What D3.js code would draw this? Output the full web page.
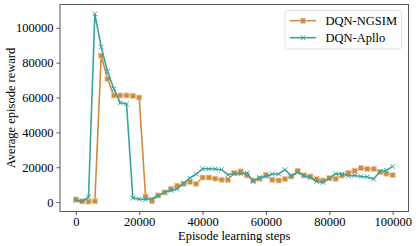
<!DOCTYPE html>
<html>
<head>
<meta charset="utf-8">
<script src="https://cdn.jsdelivr.net/npm/d3@7"></script>
<style>
    body { margin: 0; background: #fff; }
    svg { display: block; }
    text { font-family: "Liberation Serif", "DejaVu Serif", serif; }
</style>
</head>
<body>
<svg id="chart" width="416" height="246"></svg>
<script>
// training steps, one point every 2000 steps
const steps = d3.range(0, 100001, 2000);

const ngsim = [
    1500, 500, 300, 500, 84000, 70700, 61200, 61200, 61200, 61000,
    60000, 3200, 500, 3800, 5500, 7600, 9400, 10500, 11500, 10500,
    14100, 14100, 13500, 12800, 12800, 16700, 17600, 15300, 12400, 13400,
    15700, 12800, 12400, 13200, 14700, 18000, 15300, 14700, 13200, 12400,
    13800, 13400, 15300, 16700, 18000, 19500, 19000, 19000, 17200, 16300,
    15500
];

const apllo = [
    1000, 300, 2900, 108000, 89000, 75000, 65000, 57000, 56300, 2300,
    1700, 1500, 1900, 3600, 5700, 6700, 7500, 10900, 13800, 16100,
    19100, 19100, 19000, 18600, 15700, 16300, 16200, 16700, 11800, 14100,
    14700, 16100, 16100, 18600, 15100, 17000, 15300, 14100, 11800, 11300,
    13500, 16300, 16100, 15100, 15300, 14700, 14400, 13200, 17600, 18200,
    20500
];

const seriesNames = ['DQN-NGSIM', 'DQN-Apllo'];
const xTicks = [0, 20000, 40000, 60000, 80000, 100000];
const yTicks = [0, 20000, 40000, 60000, 80000, 100000];

const orange = '#cf8b3d';
const teal = '#3ba39a';
const serif = '"Liberation Serif", "DejaVu Serif", serif';

let svg = d3.select('#chart');
// plot area edges
let pl = 60, pr = 408.5, pt = 4.5, pb = 211.5;

let x = d3.scaleLinear().domain([-5000, 105000]).range([pl, pr]);
let y = d3.scaleLinear().domain([-5400, 113400]).range([pb, pt]);

// axes
let xAxis = svg.append('g')
    .attr('transform', 'translate(0,' + pb + ')')
    .call(d3.axisBottom(x).tickValues(xTicks).tickFormat(d3.format('d'))
        .tickSizeInner(3.5).tickSizeOuter(0).tickPadding(2));
let yAxis = svg.append('g')
    .attr('transform', 'translate(' + pl + ',0)')
    .call(d3.axisLeft(y).tickValues(yTicks).tickFormat(d3.format('d'))
        .tickSizeInner(3.5).tickSizeOuter(0).tickPadding(3));

[xAxis, yAxis].forEach(function(g) {
    g.attr('font-family', serif).attr('font-size', 12.5);
    g.select('.domain').remove();
    g.selectAll('line').attr('stroke', '#444').attr('stroke-width', 0.9);
    g.selectAll('text').attr('fill', '#000');
});

// series
function drawSeries(values, color, marker) {
    let pts = steps.map(function(s, i) { return [s, values[i]]; });
    let line = d3.line().x(function(d) { return x(d[0]); }).y(function(d) { return y(d[1]); });
    svg.append('path')
        .datum(pts)
        .attr('fill', 'none')
        .attr('stroke', color)
        .attr('stroke-width', 1.6)
        .attr('stroke-linejoin', 'round')
        .attr('d', line);
    let g = svg.append('g');
    pts.forEach(function(d) {
        drawMarker(g, x(d[0]), y(d[1]), color, marker);
    });
}

function drawMarker(g, cx, cy, color, marker) {
    if (marker === 'square') {
        g.append('rect')
            .attr('x', cx - 2.5).attr('y', cy - 2.5)
            .attr('width', 5).attr('height', 5)
            .attr('fill', color)
            .attr('stroke', '#e9c9a2')
            .attr('stroke-width', 0.8);
    } else {
        let r = 2.3;
        g.append('path')
            .attr('d', 'M' + (cx - r) + ',' + (cy - r) + 'L' + (cx + r) + ',' + (cy + r) +
                'M' + (cx - r) + ',' + (cy + r) + 'L' + (cx + r) + ',' + (cy - r))
            .attr('stroke', color)
            .attr('stroke-width', 1);
    }
}

drawSeries(ngsim, orange, 'square');
drawSeries(apllo, teal, 'x');

// frame
svg.append('rect')
    .attr('x', pl).attr('y', pt)
    .attr('width', pr - pl).attr('height', pb - pt)
    .attr('fill', 'none')
    .attr('stroke', '#444')
    .attr('stroke-width', 0.9);

// axis titles
svg.append('text')
    .attr('x', (pl + pr) / 2).attr('y', 239.5)
    .attr('text-anchor', 'middle')
    .attr('font-size', '12.5px')
    .text('Episode learning steps');
svg.append('text')
    .attr('transform', 'translate(15,' + ((pt + pb) / 2) + ') rotate(-90)')
    .attr('text-anchor', 'middle')
    .attr('font-size', '12.5px')
    .text('Average episode reward');

// legend
let legend = svg.append('g');
legend.append('rect')
    .attr('x', 285).attr('y', 10.5)
    .attr('width', 116.5).attr('height', 38.5)
    .attr('rx', 2.5)
    .attr('fill', '#fff')
    .attr('fill-opacity', 0.8)
    .attr('stroke', '#d8d8d8')
    .attr('stroke-width', 0.8);
[orange, teal].forEach(function(color, i) {
    let ly = 20.7 + i * 17;
    legend.append('line')
        .attr('x1', 290).attr('x2', 316)
        .attr('y1', ly).attr('y2', ly)
        .attr('stroke', color)
        .attr('stroke-width', 1.6);
    drawMarker(legend, 303, ly, color, i === 0 ? 'square' : 'x');
    legend.append('text')
        .attr('x', 325.5).attr('y', ly + 4.2)
        .attr('font-size', '12.5px')
        .text(seriesNames[i]);
});
</script>
</body>
</html>
